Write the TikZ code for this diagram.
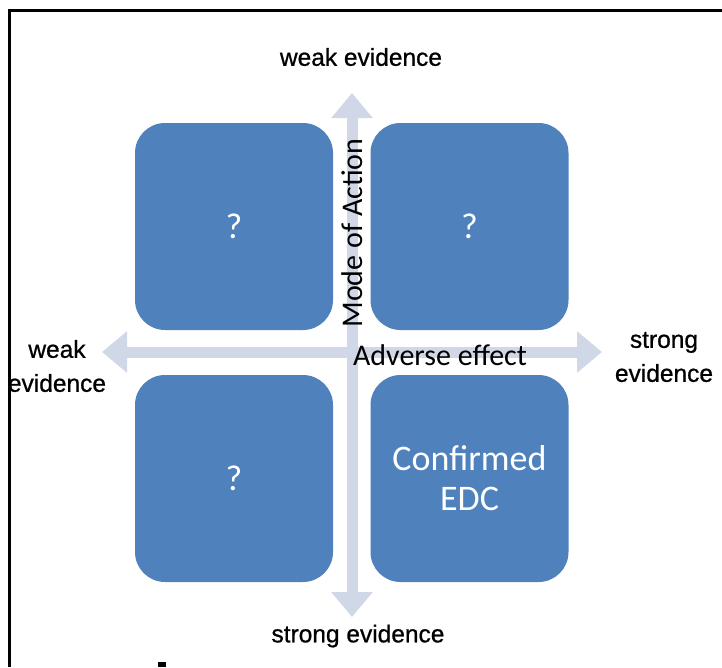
\documentclass[tikz,border=0pt]{standalone}
\usepackage{fontspec}
\setmainfont{Carlito}
\newfontfamily\labfont[FakeBold=0.8]{Liberation Sans}
\usetikzlibrary{arrows.meta}
\definecolor{boxblue}{HTML}{4F81BD}
\definecolor{axisblue}{HTML}{D0D8E8}
\begin{document}
\begin{tikzpicture}[x=1pt,y=-1pt,
  quad/.style={fill=boxblue, rounded corners=30pt, minimum width=198pt, minimum height=207pt, inner sep=0pt, text=white, font=\fontsize{36}{40}\selectfont, align=center},
  axisarrow/.style={draw=axisblue, line width=11pt, {Triangle[width=40pt,length=25pt]}-{Triangle[width=40pt,length=25pt]}},
  lab/.style={font=\labfont\fontsize{24.5}{34}\selectfont, align=center, inner sep=0pt},
  axlab/.style={font=\fontsize{30}{36}\selectfont, inner sep=0pt}]
\useasboundingbox (0,0) rectangle (722,667);
% frame
\coordinate (fb) at (9.5,667);
\coordinate (fc) at (9.5,10.5);
\coordinate (fr) at (722,10.5);
\draw[line width=3pt] (fb) -- (fc) -- (fr);
\fill (158,662) rectangle (166,667);
% boxes
\node[quad] (tl) at (234,226.5) {?};
\node[quad] (tr) at (469.5,226.5) {?};
\node[quad] (bl) at (234,478.5) {?};
\node[quad] (br) at (469.5,478.5) {Confirmed\\EDC};
% axes
\coordinate (hl) at (102,352);
\coordinate (hr) at (602,352);
\coordinate (vt) at (352,93);
\coordinate (vb) at (352,617);
\draw[axisarrow] (hl) -- (hr);
\draw[axisarrow] (vb) -- (vt);
\node[axlab, rotate=90] (moa) at (352,233) {Mode of Action};
\node[axlab] (ae) at (440,355) {Adverse effect};
% labels
\node[lab] (top) at (361,57) {weak evidence};
\node[lab] (bot) at (358,636) {strong evidence};
\node[lab] (left) at (57,366) {weak\\evidence};
\node[lab] (right) at (664,357) {strong\\evidence};
\end{tikzpicture}
\end{document}
